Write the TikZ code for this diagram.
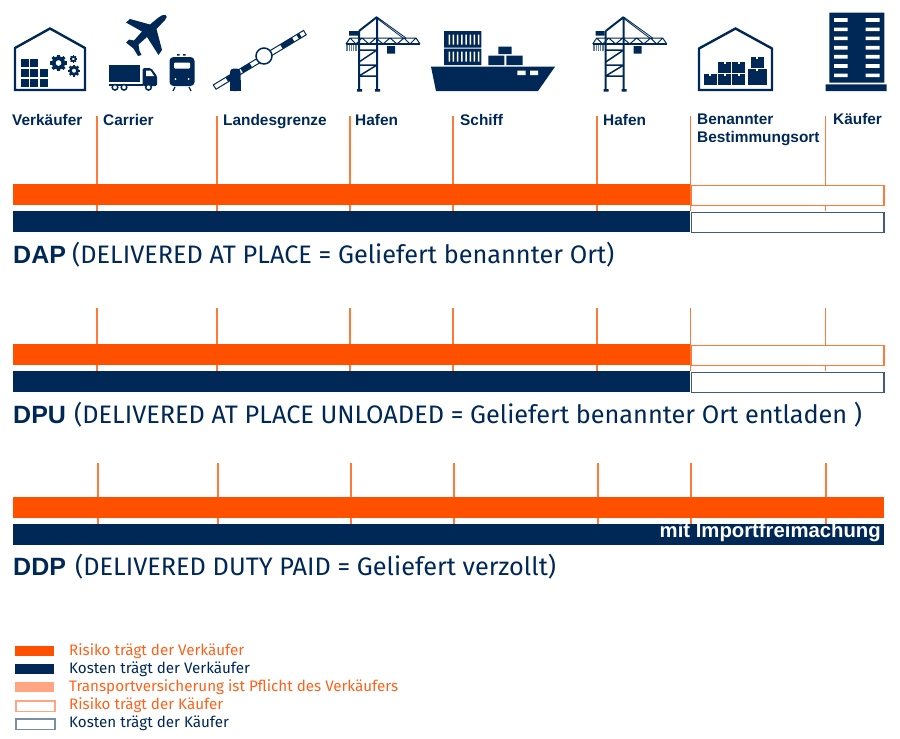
\documentclass[tikz,border=0pt]{standalone}
\usepackage{fontspec}
\usetikzlibrary{calc}
\setmainfont{Fira Sans}
\newfontfamily\labelfont[Scale=1]{Liberation Sans}
\definecolor{navy}{HTML}{002856}
\definecolor{orng}{HTML}{FF5000}
\definecolor{lorng}{HTML}{FFA582}
\definecolor{tickc}{HTML}{FF7A38}
\definecolor{navyline}{HTML}{3F5C80}
\tikzset{
  stoplabel/.style={anchor=base west,inner sep=0pt,text=navy,font=\labelfont\bfseries\fontsize{15.4}{18}\selectfont,align=left},
  tickline/.style={draw=tickc,line width=1.6pt},
  riskbar/.style={anchor=north west,inner sep=0pt,minimum height=21pt,fill=orng,draw=none},
  costbar/.style={anchor=north west,inner sep=0pt,minimum height=21pt,fill=navy,draw=none},
  riskhollow/.style={anchor=north west,inner sep=0pt,minimum height=20pt,fill=white,draw=tickc,line width=1.6pt},
  costhollow/.style={anchor=north west,inner sep=0pt,minimum height=20pt,fill=white,draw=navyline,line width=1.6pt},
  headtext/.style={anchor=base west,inner sep=0pt,text=navy,font=\fontsize{25.3}{28}\selectfont},
  headbold/.style={anchor=base west,inner sep=0pt,text=navy,font=\labelfont\bfseries\fontsize{25}{28}\selectfont},
  legendbox/.style={anchor=north west,inner sep=0pt,minimum width=39pt,minimum height=10.5pt},
  legendtext/.style={anchor=base west,inner sep=0pt,font=\fontsize{15.2}{16}\selectfont},
}
\newcommand{\gearicon}[3]{%
  \draw[navy,line width=#3*0.55pt] (#1,#2) circle[radius=#3*0.72];
  \foreach \a in {0,45,...,315}{\fill[navy,shift={(#1,#2)},rotate=\a] (#3*0.85,-#3*0.22) rectangle (#3*1.2,#3*0.22);}%
}
\newcommand{\craneicon}[1]{%
  \begin{scope}[shift={(#1,0)}]
    \draw[navy,line width=2pt] (359,31) -- (359,91) (377,17) -- (377,91) (359,31) -- (377,17);
    \fill[navy] (357,89) rectangle (362,91.5) (375,89) rectangle (380,91.5);
    \draw[navy,line width=1.7pt] (346,44) -- (420,44);
    \draw[navy,line width=1pt] (346,44) -- (350,38) -- (416,38) -- (420,44) (350,38) -- (356,44) -- (362,38) -- (369,44) -- (376,38) -- (383,44) -- (390,38) -- (397,44) -- (404,38) -- (410,44) -- (416,38);
    \draw[navy,line width=.8pt] (377,17) -- (406,38) (377,18.5) -- (403,38);
    \draw[navy,line width=1.5pt] (359,50) -- (377,50) (359,65) -- (377,65) (359,76) -- (377,76) (359,62) -- (377,50) (359,76) -- (377,65);
    \fill[navy] (349,31) rectangle (358,35.5) (387,46) rectangle (395,53.5);
    \fill[navy!60] (346,45) rectangle (357,51);
    \foreach \s in {348,350,352,354}{\draw[white,line width=.4pt] (\s,45) -- (\s,51);}
  \end{scope}%
}
\newcommand{\crate}[4]{%
  \fill[navy] (#1,#2) rectangle (#3,#4);
  \fill[white] ({(#1+#3)/2-1},#2) rectangle ({(#1+#3)/2+1},{#2+1.5});%
}
\begin{document}
\begin{tikzpicture}[x=1pt,y=-1pt]
\useasboundingbox (0,0) rectangle (900,739);
%% Icons ------------------------------------------------------
% seller warehouse
\draw[navy,line width=2.4pt,line join=miter] (15,48) -- (50,28.5) -- (85,48) -- (85,90) -- (15,90) -- cycle;
\foreach \xx/\yy in {20.5/59,30/59,20.5/69,30/69,39.5/69,20.5/79,30/79,39.5/79}{\fill[navy] (\xx,\yy) rectangle ++(8.3,8.3);}
\gearicon{58.5}{63}{7}
\gearicon{74}{70.7}{5}
\gearicon{73.3}{59}{3.1}
% plane
\fill[navy] (165.5,15) .. controls (167.5,15.5) and (167,18) .. (165,20) -- (156.5,29) -- (162,50) -- (158.5,55) -- (147,37) -- (138.5,44.5) -- (139.5,51) -- (141.5,55) -- (138,56) -- (133.5,48.5) -- (126,42.5) -- (129,39.5) -- (134,40.5) -- (142,31.5) -- (126,22.5) -- (130,19) -- (150,24.5) -- (158.5,17.5) .. controls (161,15.5) and (163,14.5) .. (165.5,15) -- cycle;
% truck
\fill[navy] (109,64.5) rectangle (140,82);
\fill[navy,rounded corners=1.5pt] (142.5,68) -- (151,68) -- (157,76) -- (157,86) -- (142.5,86) -- cycle;
\fill[white] (146,70.5) -- (150.5,70.5) -- (154,76) -- (146,76) -- cycle;
\fill[navy] (109,84) rectangle (143,85.5);
\foreach \wx in {115,124,148.5}{\draw[navy,line width=1.5pt,fill=white] (\wx,87.3) circle[radius=2.8];}
% train
\fill[navy,rounded corners=4pt] (169.5,57) rectangle (194.5,86);
\fill[white,rounded corners=1pt] (174,62.5) rectangle (190,68.5);
\fill[white] (175.5,79) circle[radius=1] (188.5,79) circle[radius=1];
\fill[navy] (177,54) rectangle (179.5,55.5) (183,54) rectangle (185.5,55.5);
\draw[navy,line width=1.2pt] (175,87) -- (173,91) (189,87) -- (191,91);
% barrier
\draw[navy,line width=1pt,fill=white] (213.3,84.9) -- (303.6,30.4) -- (306.2,34.8) -- (216,89.2) -- cycle;
\foreach \sa/\sb in {0.135/0.195,0.30/0.40,0.74/0.87,0.92/0.95}{%
  \draw[navy,line width=5pt] ($(214.7,87)!\sa!(304.9,32.5)$) -- ($(214.7,87)!\sb!(304.9,32.5)$);}
\draw[navy,line width=1.5pt,fill=white] (264,56) circle[radius=8];
\fill[navy,rounded corners=3.5pt] (230,91) -- (230,68.5) -- (240.5,68.5) -- (240.5,91) -- cycle;
\fill[navy] (230,80) rectangle (240.5,91.3);
% cranes
\craneicon{0}
\craneicon{246.7}
% ship
\fill[navy] (431,66.7) -- (555,66.7) -- (538,91) -- (436,91) -- cycle;
\fill[white] (517.3,70.7) rectangle (525.7,75) (530,70.7) rectangle (538.2,75);
\fill[navy] (444,31) rectangle (481.3,47.6) (444,48.5) rectangle (481.3,65) (488.3,55.5) rectangle (504.3,65) (506.3,55.5) rectangle (522.7,65) (498.3,46.7) rectangle (511.7,54);
\foreach \c in {0,...,7}{\fill[white] ({448.5+\c*4.2},34.5) rectangle ++(1.5,10) ({448.5+\c*4.2},51.5) rectangle ++(1.5,10);}
% destination warehouse
\draw[navy,line width=2.4pt,line join=miter] (699,48.5) -- (735.5,28.5) -- (772,48.5) -- (772,90) -- (699,90) -- cycle;
\crate{703.5}{74}{717}{85.3}
\crate{718}{74}{731}{85.3}
\crate{732}{74}{745}{85.3}
\crate{718}{62}{731}{73}
\crate{732}{62}{745}{73}
\crate{747.5}{69}{767}{85.3}
\crate{750.5}{57}{764}{67.7}
% buyer building
\fill[navy] (829.3,12.7) rectangle (884.3,82.7) (825.7,84.3) rectangle (886.7,91);
\foreach \wy in {20,29.3,38.3,47.7,56.7,66,75.3}{\fill[white] (834,\wy-1.8) rectangle (847.7,\wy+1.8) (865.7,\wy-1.8) rectangle (879.7,\wy+1.8);}
%% Timeline ticks (behind the bars) ---------------------------
\foreach \n/\xa in {a/97,b/217,c/350,d/453,e/597,f/690.5,g/825.5}{
  \coordinate (up\n) at (\xa,116); \coordinate (ub\n) at (\xa,211);
  \coordinate (mt\n) at (\xa,308); \coordinate (mb\n) at (\xa,371);
  \coordinate (lt\n) at (\xa+.7,463); \coordinate (lb\n) at (\xa+.7,524);
  \draw[tickline] (up\n) -- (ub\n);
  \draw[tickline] (mt\n) -- (mb\n);
  \draw[tickline] (lt\n) -- (lb\n);
}
%% Stop labels ------------------------------------------------
\node[stoplabel] (sVerk) at (12,125) {Verkäufer};
\node[stoplabel] (sCarr) at (103,125) {Carrier};
\node[stoplabel] (sLand) at (223,125) {Landesgrenze};
\node[stoplabel] (sHafA) at (355,125) {Hafen};
\node[stoplabel] (sSchi) at (460,125) {Schiff};
\node[stoplabel] (sHafB) at (603,125) {Hafen};
\node[stoplabel] (sBen) at (697,142.5) {Benannter\\Bestimmungsort};
\node[stoplabel] (sKauf) at (833,124.5) {Käufer};
%% DAP --------------------------------------------------------
\node[riskbar,minimum width=677pt] (dapR) at (13,184) {};
\node[riskhollow,minimum width=192.5pt] (dapRb) at (690.5,184.5) {};
\node[costbar,minimum width=677pt] (dapC) at (13,211) {};
\node[costhollow,minimum width=192.5pt] (dapCb) at (690.5,211.5) {};
\node[headbold] (dapH) at (13,263) {DAP};
\node[headtext] (dapT) at (72,263) {(DELIVERED AT PLACE = Geliefert benannter Ort)};
%% DPU --------------------------------------------------------
\node[riskbar,minimum width=677pt] (dpuR) at (13,344) {};
\node[riskhollow,minimum width=192.5pt] (dpuRb) at (690.5,344.5) {};
\node[costbar,minimum width=677pt] (dpuC) at (13,371) {};
\node[costhollow,minimum width=192.5pt] (dpuCb) at (690.5,371.5) {};
\node[headbold] (dpuH) at (13,423) {DPU};
\node[headtext] (dpuT) at (74,423) {(DELIVERED AT PLACE UNLOADED = Geliefert benannter Ort entladen )};
%% DDP --------------------------------------------------------
\node[riskbar,minimum width=871pt] (ddpR) at (13,497) {};
\node[costbar,minimum width=871pt] (ddpC) at (13,524) {};
\node[anchor=base east,inner sep=0pt,text=white,font=\labelfont\bfseries\fontsize{20.3}{22}\selectfont] (ddpN) at (881,537) {mit Importfreimachung};
\node[headbold] (ddpH) at (13,575) {DDP};
\node[headtext] (ddpT) at (75,575) {(DELIVERED DUTY PAID = Geliefert verzollt)};
%% Legend -----------------------------------------------------
\node[legendbox,fill=orng] (l1) at (15,645.5) {};
\node[legendbox,fill=navy] (l2) at (15,663.5) {};
\node[legendbox,fill=lorng] (l3) at (15,681.5) {};
\node[legendbox,fill=white,draw=lorng,line width=1.6pt] (l4) at (15,700) {};
\node[legendbox,fill=white,draw=navyline!70,line width=1.6pt] (l5) at (15,718) {};
\node[legendtext,text=orng!90!white] (t1) at (69,655) {Risiko trägt der Verkäufer};
\node[legendtext,text=navy] (t2) at (69,673) {Kosten trägt der Verkäufer};
\node[legendtext,text=orng!90!white] (t3) at (69,691) {Transportversicherung ist Pflicht des Verkäufers};
\node[legendtext,text=orng!90!white] (t4) at (69,709) {Risiko trägt der Käufer};
\node[legendtext,text=navy] (t5) at (69,727) {Kosten trägt der Käufer};
\end{tikzpicture}
\end{document}
